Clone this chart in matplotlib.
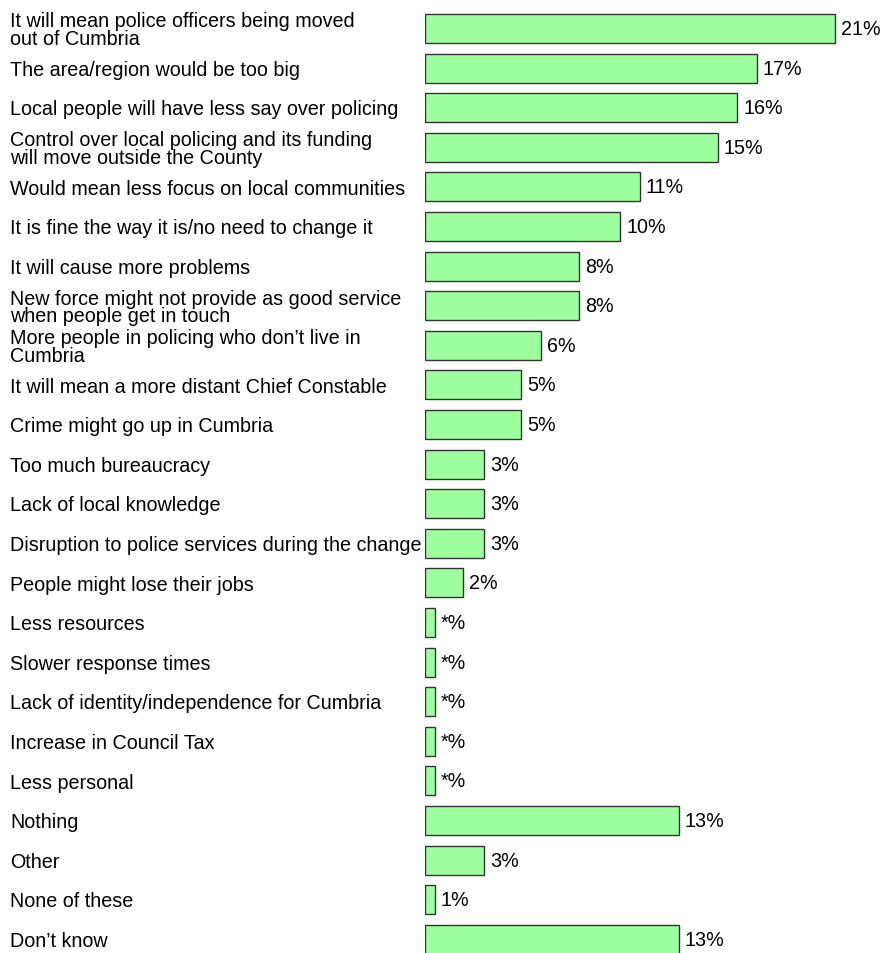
import matplotlib
matplotlib.use("Agg")
import matplotlib.pyplot as plt
from matplotlib.transforms import blended_transform_factory

categories = [
    "It will mean police officers being moved\nout of Cumbria",
    "The area/region would be too big",
    "Local people will have less say over policing",
    "Control over local policing and its funding\nwill move outside the County",
    "Would mean less focus on local communities",
    "It is fine the way it is/no need to change it",
    "It will cause more problems",
    "New force might not provide as good service\nwhen people get in touch",
    "More people in policing who don\u2019t live in\nCumbria",
    "It will mean a more distant Chief Constable",
    "Crime might go up in Cumbria",
    "Too much bureaucracy",
    "Lack of local knowledge",
    "Disruption to police services during the change",
    "People might lose their jobs",
    "Less resources",
    "Slower response times",
    "Lack of identity/independence for Cumbria",
    "Increase in Council Tax",
    "Less personal",
    "Nothing",
    "Other",
    "None of these",
    "Don\u2019t know",
]
values = [21, 17, 16, 15, 11, 10, 7.9, 7.9, 5.95, 4.9, 4.9, 3, 3, 3, 1.95,
          0.5, 0.5, 0.5, 0.5, 0.5, 13, 3, 0.5, 13]
value_labels = ["21%", "17%", "16%", "15%", "11%", "10%", "8%", "8%", "6%", "5%",
                "5%", "3%", "3%", "3%", "2%", "*%", "*%", "*%", "*%", "*%",
                "13%", "3%", "1%", "13%"]

W, H = 883, 954
fig = plt.figure(figsize=(W / 100, H / 100), dpi=100)
left_px = 425
ax = fig.add_axes([left_px / W, 0, 1 - left_px / W, 1])
px_per_unit = 19.5
pitch = 39.6
first_center = 29.5
ax.set_xlim(0, (W - left_px) / px_per_unit)
ax.set_ylim(23 + (H - (first_center + 23 * pitch)) / pitch, -first_center / pitch)
ax.axis("off")

ys = list(range(len(categories)))
ax.barh(ys, values, height=0.73, color="#9EFF9E", edgecolor="#333333", linewidth=1.0)

font = ["Liberation Sans", "DejaVu Sans"]
fs = 14.2
trans = blended_transform_factory(fig.transFigure, ax.transData)
for y, cat, v, lab in zip(ys, categories, values, value_labels):
    ax.text(10 / W, y + 0.03, cat, transform=trans, ha="left", va="center",
            fontsize=fs, family=font, linespacing=0.9, color="black")
    ax.annotate(lab, (v, y), xytext=(4.5, 0), textcoords="offset points",
                ha="left", va="center", fontsize=fs, family=font, color="black")

fig.savefig("out.png", dpi=100)
